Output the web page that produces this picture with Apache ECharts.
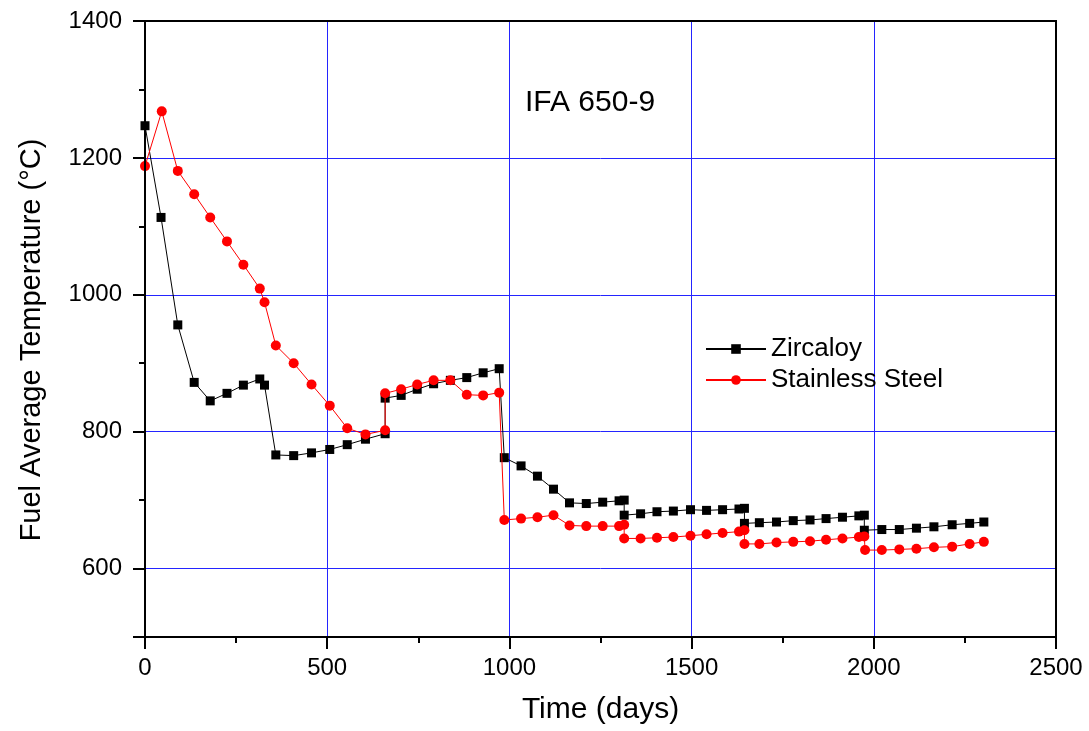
<!DOCTYPE html>
<html>
<head>
<meta charset="utf-8">
<script src="https://cdn.jsdelivr.net/npm/echarts@6/dist/echarts.min.js"></script>
<style>
  html, body { margin: 0; padding: 0; background: #fff; }
  #chart { width: 1089px; height: 731px; }
</style>
</head>
<body>
<div id="chart"></div>
<script>
const FONT = "'Liberation Sans', Arial, sans-serif";

// Zircaloy cladding
const zircDays = [0, 44, 90, 135, 179, 225, 270, 315, 328, 359, 408, 457, 507, 555, 605, 659, 659,
  703, 747, 792, 838, 883, 928, 972, 986, 1032, 1077, 1121, 1165, 1211, 1256, 1301, 1315, 1315,
  1360, 1405, 1450, 1497, 1541, 1585, 1630, 1645, 1645, 1686, 1733, 1779, 1825, 1869, 1914, 1959,
  1974, 1974, 2022, 2070, 2117, 2165, 2215, 2263, 2302];
const zircTemp = [1247, 1113, 956, 872, 845, 856, 868, 877, 868, 766, 765, 769, 774, 781, 789, 797, 849,
  853, 862, 870, 875, 879, 886, 892, 762, 750, 735, 716, 696, 695, 697, 699, 700, 678,
  680, 683, 684, 686, 685, 686, 687, 688, 666, 667, 668, 670, 671, 673, 675, 677,
  678, 656, 657, 657, 659, 661, 664, 666, 668];

// Stainless steel cladding
const ssDays = [0, 46, 90, 135, 179, 225, 270, 315, 328, 359, 408, 457, 507, 555, 605, 659, 659,
  703, 747, 792, 838, 883, 928, 972, 986, 1032, 1077, 1121, 1165, 1211, 1256, 1301, 1315, 1315,
  1360, 1405, 1450, 1497, 1541, 1585, 1630, 1645, 1645, 1686, 1733, 1779, 1825, 1869, 1914, 1959,
  1974, 1976, 2022, 2070, 2117, 2165, 2215, 2263, 2302];
const ssTemp = [1188, 1268, 1181, 1147, 1113, 1078, 1044, 1009, 989, 926, 900, 869, 838, 805, 796, 802, 856,
  862, 869, 875, 875, 854, 853, 857, 671, 673, 675, 678, 663, 662, 662, 662, 664, 644,
  644, 645, 646, 648, 650, 652, 654, 656, 636, 636, 638, 639, 640, 642, 644, 646,
  647, 627, 627, 628, 629, 631, 632, 636, 639];

const yMajor = [500, 600, 800, 1000, 1200, 1400];
const yLabels = [600, 800, 1000, 1200, 1400];

const zip = (xs, ys) => xs.map((x, i) => [x, ys[i]]);
const plain = (v) => String(v);

const chart = echarts.init(document.getElementById("chart"));

const GRID_BLUE = "#2424ff";

chart.setOption({
  animation: false,
  backgroundColor: "#fff",
  textStyle: { fontFamily: FONT, color: "#000" },
  title: {
    text: "IFA 650-9",
    left: 520,
    top: 83,
    textStyle: { fontFamily: FONT, fontSize: 30, fontWeight: "normal", color: "#000" },
  },
  legend: {
    orient: "vertical",
    left: 700,
    top: 331,
    itemWidth: 60,
    itemHeight: 12,
    itemGap: 5,
    textStyle: { fontFamily: FONT, fontSize: 26, color: "#000" },
    data: ["Zircaloy", "Stainless Steel"],
  },
  grid: {
    left: 145,
    right: 33,
    top: 21,
    bottom: 94,
    show: true,
    borderColor: "#000",
    borderWidth: 2,
    z: 10,
  },
  xAxis: {
    type: "value",
    min: 0,
    max: 2500,
    interval: 500,
    name: "Time (days)",
    nameLocation: "middle",
    nameGap: 58,
    nameTextStyle: { fontFamily: FONT, fontSize: 30, color: "#000" },
    axisLine: { lineStyle: { color: "#000", width: 2 } },
    axisTick: { length: 12, lineStyle: { color: "#000", width: 2 } },
    minorTick: { show: true, splitNumber: 2, length: 6, lineStyle: { color: "#000", width: 2 } },
    axisLabel: { fontFamily: FONT, fontSize: 24, color: "#000", margin: 19, formatter: plain },
    splitLine: { show: true, showMinLine: false, showMaxLine: false, lineStyle: { color: GRID_BLUE, width: 1 } },
  },
  yAxis: [
    {
      type: "value",
      min: 500,
      max: 1400,
      interval: 100,
      name: "Fuel Average Temperature (°C)",
      nameLocation: "middle",
      nameGap: 99,
      nameTextStyle: { fontFamily: FONT, fontSize: 29, color: "#000", padding: [0, 22, 0, 0] },
      axisLine: { show: true, lineStyle: { color: "#000", width: 2 } },
      axisTick: { length: 6, lineStyle: { color: "#000", width: 2 } },
      axisLabel: { show: false },
      // only the even hundreds get a grid line
      splitLine: { show: true, showMaxLine: false, lineStyle: { color: ["rgba(0,0,0,0)", GRID_BLUE], width: 1 } },
    },
    {
      type: "value",
      min: 500,
      max: 1400,
      position: "left",
      axisLine: { show: false },
      axisTick: { show: true, customValues: yMajor, length: 12, lineStyle: { color: "#000", width: 2 } },
      axisLabel: { customValues: yLabels, fontFamily: FONT, fontSize: 24, color: "#000", margin: 23, formatter: plain },
      splitLine: { show: false },
    },
  ],
  series: [
    {
      name: "Zircaloy",
      type: "line",
      data: zip(zircDays, zircTemp),
      symbol: "rect",
      symbolSize: 9,
      showAllSymbol: true,
      itemStyle: { color: "#000" },
      lineStyle: { color: "#000", width: 1 },
      z: 2,
    },
    {
      name: "Stainless Steel",
      type: "line",
      data: zip(ssDays, ssTemp),
      symbol: "circle",
      symbolSize: 10,
      showAllSymbol: true,
      itemStyle: { color: "#ff0000" },
      lineStyle: { color: "#ff0000", width: 1 },
      z: 3,
    },
  ],
});
</script>
</body>
</html>
